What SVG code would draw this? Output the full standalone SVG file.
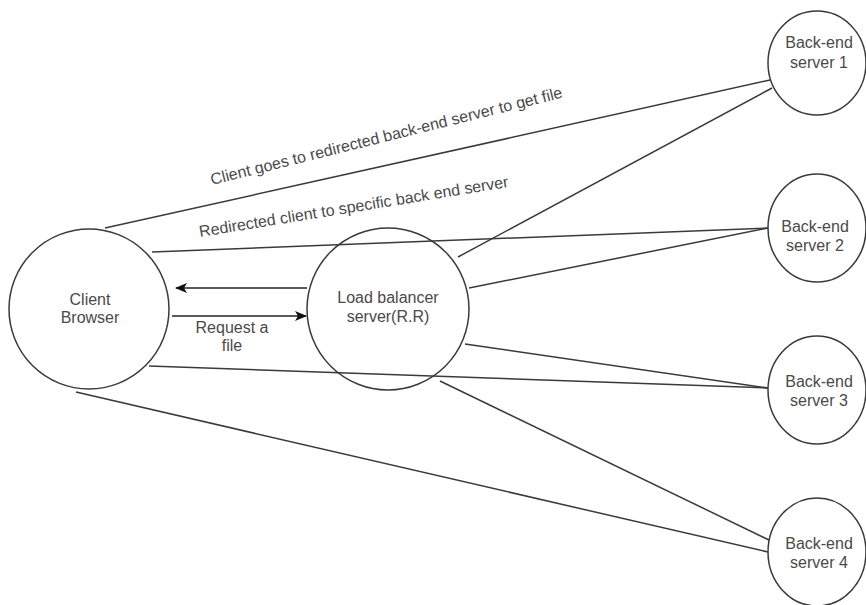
<svg xmlns="http://www.w3.org/2000/svg" width="866" height="605" viewBox="0 0 866 605">
  <defs>
    <style>
      .node { fill: #ffffff; stroke: #3a3a3a; stroke-width: 1.5; }
      .conn { stroke: #3a3a3a; stroke-width: 1.5; fill: none; }
      .arr { stroke: #222222; stroke-width: 1.6; fill: none; }
      .lbl { font-family: "Liberation Sans", Arial, sans-serif; font-size: 16px; fill: #4a4a4a; }
      .mid { text-anchor: middle; }
    </style>
    <marker id="arrow" viewBox="0 0 12 10" refX="11" refY="5" markerWidth="12" markerHeight="10" orient="auto" markerUnits="userSpaceOnUse">
      <path d="M0,0 L12,5 L0,10 L3,5 Z" fill="#111111"/>
    </marker>
  </defs>
  <rect width="866" height="605" fill="#ffffff"/>

  <g id="connectors">
    <line class="conn" x1="105" y1="228" x2="770" y2="80"/>
    <line class="conn" x1="152" y1="252" x2="768" y2="228"/>
    <line class="conn" x1="149" y1="366" x2="768" y2="388"/>
    <line class="conn" x1="76" y1="392" x2="768" y2="552"/>
    <line class="conn" x1="458" y1="257" x2="772" y2="88"/>
    <line class="conn" x1="469" y1="288" x2="768" y2="228"/>
    <line class="conn" x1="465" y1="344" x2="768" y2="388"/>
    <line class="conn" x1="440" y1="381" x2="769" y2="540"/>
    <line class="arr" x1="307" y1="288" x2="176" y2="288" marker-end="url(#arrow)"/>
    <line class="arr" x1="172" y1="316" x2="306" y2="316" marker-end="url(#arrow)"/>
    <text class="lbl" transform="translate(212,185) rotate(-14)">Client goes to redirected back-end server to get file</text>
    <text class="lbl" transform="translate(200,237) rotate(-9.2)">Redirected client to specific back end server</text>
    <text class="lbl mid" x="232" y="333">Request a</text>
    <text class="lbl mid" x="232" y="351">file</text>
  </g>

  <g id="client">
    <circle class="node" cx="89" cy="309" r="80"/>
    <text class="lbl mid" x="90" y="305">Client</text>
    <text class="lbl mid" x="90" y="323">Browser</text>
  </g>

  <g id="loadbalancer">
    <circle class="node" cx="388" cy="309" r="81" fill-opacity="0"/>
    <text class="lbl mid" x="388" y="303">Load balancer</text>
    <text class="lbl mid" x="388" y="322">server(R.R)</text>
  </g>

  <g id="server1">
    <ellipse class="node" cx="817" cy="63" rx="49" ry="52"/>
    <text class="lbl mid" x="819" y="48">Back-end</text>
    <text class="lbl mid" x="819" y="68">server 1</text>
  </g>

  <g id="server2">
    <ellipse class="node" cx="817" cy="228" rx="49" ry="54"/>
    <text class="lbl mid" x="815" y="232">Back-end</text>
    <text class="lbl mid" x="815" y="251">server 2</text>
  </g>

  <g id="server3">
    <ellipse class="node" cx="817" cy="390" rx="49" ry="54"/>
    <text class="lbl mid" x="819" y="387">Back-end</text>
    <text class="lbl mid" x="819" y="406">server 3</text>
  </g>

  <g id="server4">
    <ellipse class="node" cx="817" cy="552" rx="49" ry="54"/>
    <text class="lbl mid" x="819" y="549">Back-end</text>
    <text class="lbl mid" x="819" y="568">server 4</text>
  </g>
</svg>
